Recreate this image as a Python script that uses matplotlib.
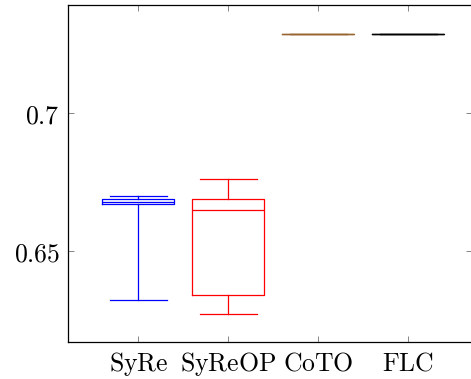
import matplotlib
matplotlib.use('Agg')
import matplotlib.pyplot as plt

plt.rcParams['mathtext.fontset'] = 'cm'
plt.rcParams['font.family'] = 'DejaVu Serif'

# methods and box statistics (whislo, q1, med, q3, whishi)
labels = ['SyRe', 'SyReOP', 'CoTO', 'FLC']
whislo = [0.6321, 0.6270, 0.7289, 0.7289]
q1 = [0.6671, 0.6340, 0.7289, 0.7289]
med = [0.6679, 0.6650, 0.7289, 0.7289]
q3 = [0.6689, 0.6690, 0.7289, 0.7289]
whishi = [0.6701, 0.6760, 0.7289, 0.7289]
colors = ['blue', 'red', (0.6, 0.4, 0.2), 'black']

fig = plt.figure(figsize=(4.71, 3.79), dpi=100)
ax = fig.add_axes([0.145, 0.0976, 0.857, 0.888])

for i in range(len(labels)):
    st = [{'whislo': whislo[i], 'q1': q1[i], 'med': med[i], 'q3': q3[i],
           'whishi': whishi[i], 'fliers': []}]
    c = colors[i]
    ax.bxp(st, positions=[i + 1], widths=0.8, showfliers=False,
           boxprops=dict(color=c, lw=0.9),
           medianprops=dict(color=c, lw=0.9),
           whiskerprops=dict(color=c, lw=0.9),
           capprops=dict(color=c, lw=0.9, ), capwidths=0.64)

ax.set_xlim(0.222, 4.706)
ax.set_ylim(0.61696, 0.73921)
ax.set_xticks([1, 2, 3, 4])
ax.set_xticklabels([r'$\mathrm{%s}$' % l for l in labels], fontsize=18.5)
ax.set_yticks([0.65, 0.7])
ax.set_yticklabels([r'$0.65$', r'$0.7$'], fontsize=18.5)
ax.tick_params(direction='in', length=4, width=0.6, color='0.45',
               top=True, right=True, pad=6)
for s in ax.spines.values():
    s.set_linewidth(0.9)

fig.savefig('out.png', dpi=100)
